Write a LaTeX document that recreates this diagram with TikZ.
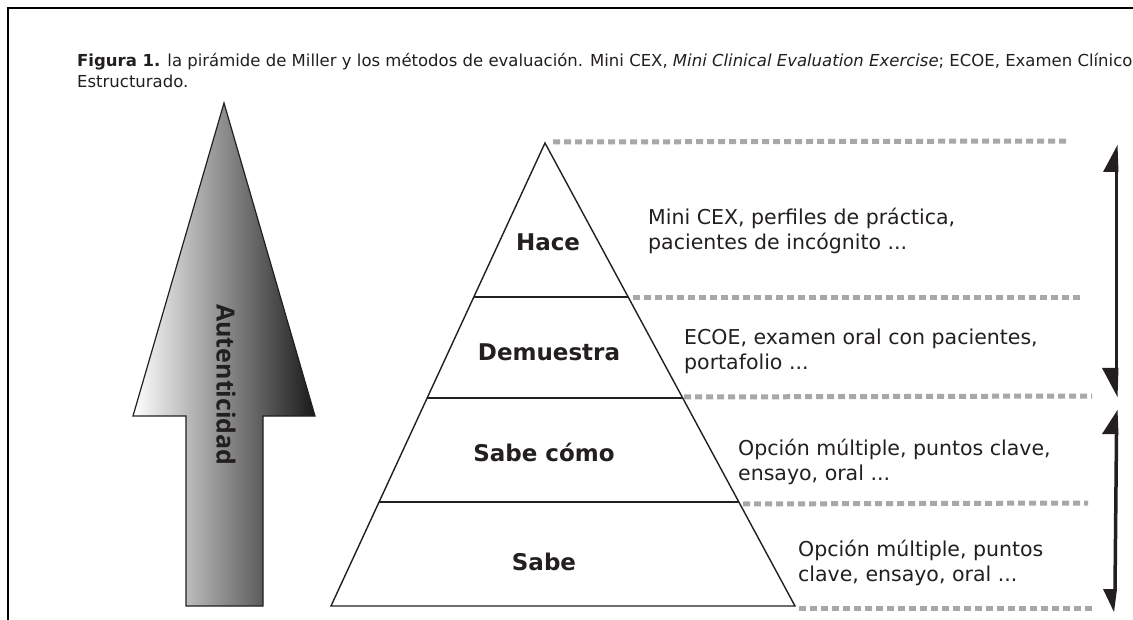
\documentclass[tikz,border=0pt]{standalone}
\usepackage{fontspec}
\setmainfont{DejaVu Sans}
\newfontfamily\arrowfont{Open Sans}
\definecolor{ink}{HTML}{231F20}
\definecolor{dotgray}{HTML}{A8A8A8}
\tikzset{
  edge/.style={draw=ink, line width=1.4pt},
  dotline/.style={draw=dotgray, line width=5pt, dash pattern=on 7pt off 4pt},
  level/.style={anchor=base, inner sep=0pt, text=ink, font=\fontsize{23}{27}\selectfont\bfseries},
  method/.style={anchor=base west, inner sep=0pt, text=ink, align=left, font=\fontsize{20.5}{25}\selectfont},
  caption/.style={anchor=base west, inner sep=0pt, text=ink, font=\fontsize{16.5}{20}\selectfont},
  sidearrow/.style={draw=ink, line width=3.5pt},
  headfill/.style={fill=ink, draw=none}
}
\begin{document}
\begin{tikzpicture}[x=1pt,y=-1pt]
\useasboundingbox (0,0) rectangle (1133,620);
\fill[white] (0,0) rectangle (1133,620);
% frame
\draw[black, line width=2.5pt] (8,620) -- (8,8) -- (1135,8);
% caption
\node[caption] (cap1) at (77,67) {\textbf{Figura 1.} la pirámide de Miller y los métodos de evaluación. Mini CEX, \textit{Mini Clinical Evaluation Exercise}; ECOE, Examen Clínico};
\node[caption] (cap2) at (77,88) {Estructurado.};
% big arrow
\shade[left color=white, right color=black!90, draw=ink, line width=1.2pt]
  (224,103) -- (315,416) -- (263,416) -- (263,606) -- (186,606) -- (186,416) -- (133,416) -- cycle;
\node[rotate=-90, inner sep=0pt, text=ink, font=\arrowfont\fontsize{25}{29}\selectfont\bfseries] (aut) at (226,385) {Autenticidad};
% pyramid
\coordinate (A) at (545,143);
\coordinate (BL) at (331,606);
\coordinate (BR) at (795,606);
\coordinate (L1) at (473.8,297);
\coordinate (R1) at (628.2,297);
\coordinate (L2) at (427.1,398);
\coordinate (R2) at (682.7,398);
\coordinate (L3) at (379.1,502);
\coordinate (R3) at (738.9,502);
\draw[edge, line join=miter] (A) -- (BR) -- (BL) -- cycle;
\draw[edge] (L1) -- (R1);
\draw[edge] (L2) -- (R2);
\draw[edge] (L3) -- (R3);
% dotted lines
\coordinate (d1a) at (553,142); \coordinate (d1b) at (1068,141);
\coordinate (d2a) at (633,298); \coordinate (d2b) at (1080,298);
\coordinate (d3a) at (684,397); \coordinate (d3b) at (1092,396);
\coordinate (d4a) at (743,504); \coordinate (d4b) at (1088,503);
\coordinate (d5a) at (799,608); \coordinate (d5b) at (1093,608);
\draw[dotline] (d1a) -- (d1b);
\draw[dotline] (d2a) -- (d2b);
\draw[dotline] (d3a) -- (d3b);
\draw[dotline] (d4a) -- (d4b);
\draw[dotline] (d5a) -- (d5b);
% level labels
\node[level] (hace) at (548,251) {Hace};
\node[level] (dem) at (549,361) {Demuestra};
\node[level] (sc) at (544,461) {Sabe cómo};
\node[level] (sabe) at (544,570) {Sabe};
% methods
\node[method] (m1) at (648,250) {Mini CEX, perfiles de práctica,\\pacientes de incógnito ...};
\node[method] (m2) at (684,370) {ECOE, examen oral con pacientes,\\portafolio ...};
\node[method] (m3) at (738,480) {Opción múltiple, puntos clave,\\ensayo, oral ...};
\node[method] (m4) at (798,581) {Opción múltiple, puntos\\clave, ensayo, oral ...};
% side arrows
\coordinate (u1) at (1116.5,170); \coordinate (u2) at (1116.5,372);
\coordinate (l1) at (1116.5,434); \coordinate (l2) at (1115,590);
\draw[sidearrow] (u1) -- (u2);
\draw[sidearrow] (l1) -- (l2);
\fill[headfill] (1117.5,145) -- (1103,172) -- (1118.5,172) -- cycle;
\fill[headfill] (1117.5,397) -- (1102,368) -- (1118.5,368) -- cycle;
\fill[headfill] (1117.5,410) -- (1102,434) -- (1118.5,434) -- cycle;
\fill[headfill] (1114,612) -- (1103,589) -- (1117,589) -- cycle;
\end{tikzpicture}
\end{document}
